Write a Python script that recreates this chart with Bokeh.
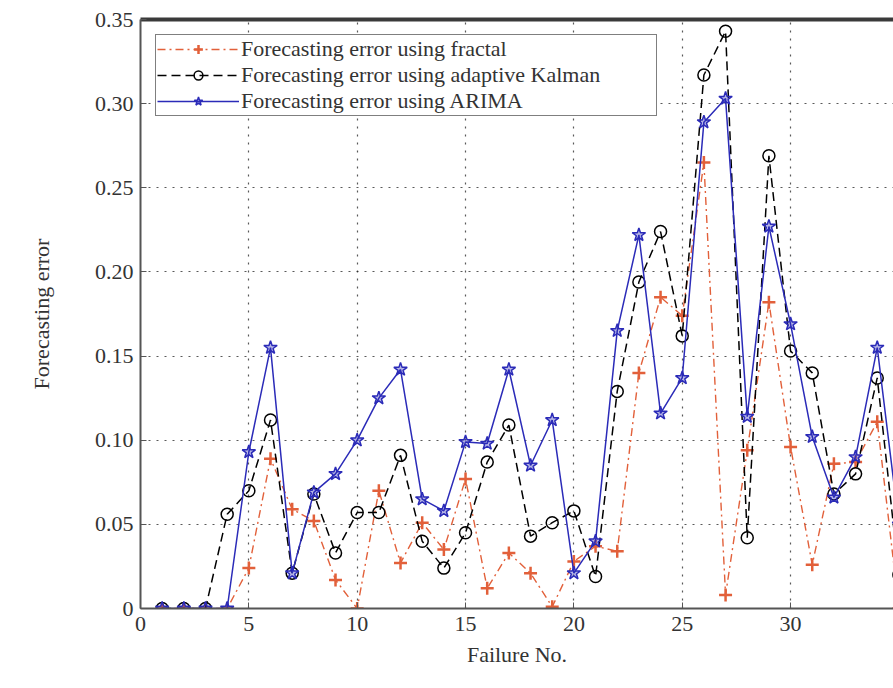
from bokeh.plotting import figure
from bokeh.models import (Range1d, FixedTicker, Legend, LegendItem, LinearAxis)
from bokeh.embed import file_html
from bokeh.resources import INLINE

failure_no = list(range(1, 36))
fractal = [0, 0, 0, 0, 0.024, 0.089, 0.059, 0.052, 0.017, 0.0,
           0.070, 0.027, 0.051, 0.035, 0.077, 0.012, 0.033, 0.021, 0.001, 0.028,
           0.037, 0.034, 0.140, 0.185, 0.174, 0.265, 0.008, 0.094, 0.182, 0.096,
           0.026, 0.086, 0.087, 0.111, 0.0]
kalman = [0, 0, 0, 0.056, 0.070, 0.112, 0.021, 0.068, 0.033, 0.057,
          0.057, 0.091, 0.040, 0.024, 0.045, 0.087, 0.109, 0.043, 0.051, 0.058,
          0.019, 0.129, 0.194, 0.224, 0.162, 0.317, 0.343, 0.042, 0.269, 0.153,
          0.140, 0.068, 0.080, 0.137, 0.020]
arima = [0, 0, 0, 0, 0.093, 0.155, 0.021, 0.069, 0.080, 0.100,
         0.125, 0.142, 0.065, 0.058, 0.099, 0.098, 0.142, 0.085, 0.112, 0.021,
         0.040, 0.165, 0.222, 0.116, 0.137, 0.289, 0.303, 0.114, 0.227, 0.169,
         0.102, 0.066, 0.090, 0.155, 0.050]

x_ticks = [0, 5, 10, 15, 20, 25, 30, 35]
y_ticks = [0, 0.05, 0.10, 0.15, 0.20, 0.25, 0.30, 0.35]
y_tick_labels = ["0", "0.05", "0.10", "0.15", "0.20", "0.25", "0.30", "0.35"]
series_names = ["Forecasting error using fractal",
                "Forecasting error using adaptive Kalman",
                "Forecasting error using ARIMA"]

FONT = "Liberation Serif"
ORANGE = "#e2603a"
BLUE = "#2b2bb8"

p = figure(width=893, height=688, output_backend="svg", toolbar_location=None,
           x_range=Range1d(0, 34.75), y_range=Range1d(0, 0.35),
           min_border_left=140, min_border_right=0, min_border_top=19,
           min_border_bottom=80)
p.outline_line_color = None
p.background_fill_color = "white"

for ax in (p.xaxis[0], p.yaxis[0]):
    ax.axis_line_color = "#555555"
    ax.axis_line_width = 2
    ax.major_tick_in = 6
    ax.major_tick_out = 0
    ax.minor_tick_line_color = None
    ax.major_tick_line_color = "#555555"
    ax.major_label_text_font = FONT
    ax.major_label_text_font_size = "22px"
    ax.major_label_text_color = "#333333"
    ax.axis_label_text_font = FONT
    ax.axis_label_text_font_size = "22px"
    ax.axis_label_text_font_style = "normal"
    ax.axis_label_text_color = "#333333"

p.xaxis[0].ticker = FixedTicker(ticks=x_ticks)
p.yaxis[0].ticker = FixedTicker(ticks=y_ticks)
p.yaxis[0].major_label_overrides = {t: s for t, s in zip(y_ticks, y_tick_labels)}
p.xaxis[0].axis_label = "Failure No."
p.yaxis[0].axis_label = "Forecasting error"
p.xaxis[0].major_label_standoff = 8
p.xaxis[0].axis_label_standoff = 8
p.yaxis[0].major_label_standoff = 7
p.yaxis[0].axis_label_standoff = 38

top = LinearAxis(ticker=FixedTicker(ticks=[]), axis_line_width=4,
                 axis_line_color="#3a3a3a", major_label_text_font_size="0px",
                 major_tick_line_color=None, minor_tick_line_color=None)
p.add_layout(top, "above")

p.xgrid.ticker = FixedTicker(ticks=x_ticks)
p.ygrid.ticker = FixedTicker(ticks=y_ticks)
p.grid.grid_line_color = "#222222"
p.grid.grid_line_dash = "2 6"
p.grid.grid_line_width = 1.2
p.grid.grid_line_alpha = 0.75

# fractal
l1 = p.line(failure_no, fractal, line_color=ORANGE, line_width=1.4,
            line_dash="8 4 2 4")
m1 = p.scatter(failure_no, fractal, marker="cross", size=13, line_color=ORANGE,
               line_width=2.5)
# Kalman
l2 = p.line(failure_no, kalman, line_color="black", line_width=1.5,
            line_dash="9 5")
m2 = p.scatter(failure_no, kalman, marker="circle", size=12, line_color="black",
               fill_color="white", fill_alpha=0.0, line_width=1.5)
# ARIMA
l3 = p.line(failure_no, arima, line_color=BLUE, line_width=1.5)
m3 = p.scatter(failure_no, arima, marker="star", size=14, line_color=BLUE,
               fill_color=BLUE, fill_alpha=0.35, line_width=1.5)

legend = Legend(items=[LegendItem(label=series_names[0], renderers=[l1, m1]),
                       LegendItem(label=series_names[1], renderers=[l2, m2]),
                       LegendItem(label=series_names[2], renderers=[l3, m3])],
                location="top_left", margin=15, padding=1, spacing=0,
                glyph_width=82, glyph_height=22, label_height=22,
                label_width=414, label_standoff=2,
                label_text_font=FONT, label_text_font_size="22px",
                label_text_color="#333333",
                border_line_color="black", border_line_width=1.5,
                background_fill_color="white", background_fill_alpha=1.0)
p.add_layout(legend)

open("out.html", "w").write(file_html(p, INLINE))
